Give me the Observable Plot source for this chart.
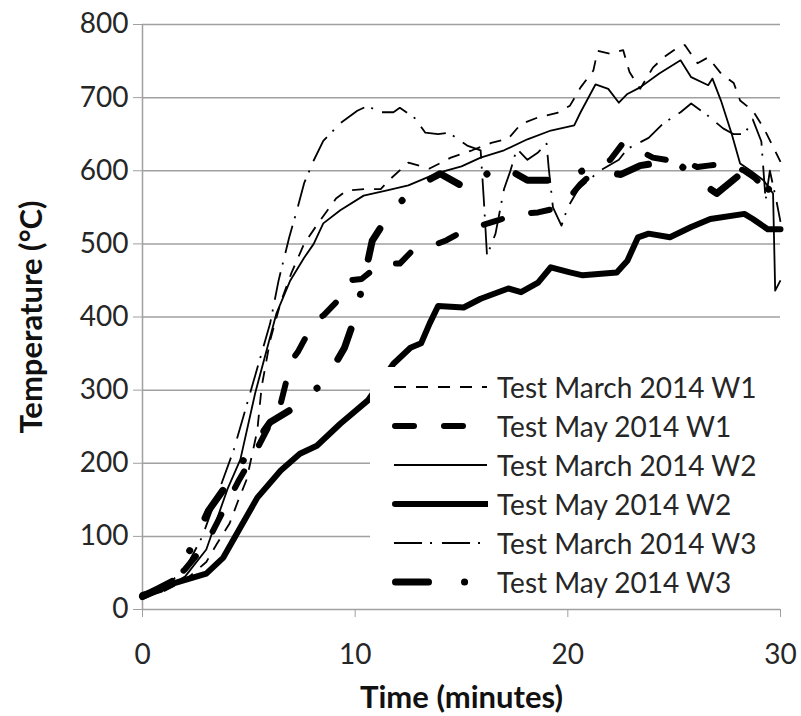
<!DOCTYPE html>
<html><head><meta charset="utf-8">
<script src="https://cdn.jsdelivr.net/npm/d3@7"></script>
<script src="https://cdn.jsdelivr.net/npm/@observablehq/plot@0.6"></script>
<style>
body{margin:0;background:#fff;}
#wrap{position:relative;width:801px;height:716px;font-family:Lato,"Open Sans",sans-serif;}
#legend{position:absolute;left:370px;top:367px;width:425px;height:232px;background:#fff;}
.row{display:flex;align-items:center;height:39px;}
.row svg{margin-left:22px;flex:none;}
.row span{margin-left:9px;font-size:28px;color:#262626;white-space:nowrap;}
g[aria-label="y-axis label"] text, g[aria-label="x-axis label"] text{font-weight:700;font-size:31px;fill:#111;}
</style></head>
<body><div id="wrap"></div>
<script>
// ---- data (time in minutes, temperature in °C) ----
const xTicks = [0, 10, 20, 30];
const yTicks = [0, 100, 200, 300, 400, 500, 600, 700, 800];

const tMarchW1 = [0,1,2,3,3.5,4.1,4.5,4.9,5.4,5.6,6.0,6.5,7.0,7.6,8.3,9.1,9.6,10.5,11.2,11.7,12.5,13.5,14.5,15.5,16.4,17.2,17.8,18.6,19.5,20.1,20.6,21.2,21.4,22.0,22.6,22.9,23.4,24.0,24.5,25.0,25.5,26.1,26.6,27.2,27.8,28.1,28.7,29.2,29.7,30];
const vMarchW1 = [18,25,40,65,90,118,149,178,245,304,368,420,460,500,530,562,573,575,575,590,611,603,618,628,638,644,664,673,679,689,714,737,764,760,765,735,712,741,755,765,772,747,755,733,720,696,682,659,630,612];

const tMayW1 = [0,1,2,3,3.8,4.5,5.3,6.0,6.4,7.0,7.3,8.1,8.5,9.5,9.7,10.3,11.2,12.1,12.6,13.4,14.3,15.1,15.9,16.7,17.6,18.6,19.5,20.2,20.6,21.3,22.0,22.6,23.2,24.0,24.8,25.5,26.1,26.6,27.5,28.3,28.8,29.2,30];
const vMayW1 = [20,28,55,90,135,175,215,254,270,340,352,395,402,432,450,452,473,473,488,495,505,518,525,532,541,543,549,568,582,600,615,638,630,618,614,612,605,607,610,600,590,578,575];

const tMarchW2 = [0,1,2,3,4,4.6,5.3,6.3,6.95,7.6,8.05,8.5,9.3,10.4,11.5,12.5,13.9,15.0,15.9,17.0,18.1,19.2,20.3,20.6,21.3,21.9,22.4,22.8,23.4,24.3,25.3,25.8,26.6,26.8,27.2,27.7,28.1,28.6,29.2,29.65,29.75,30];
const vMarchW2 = [20,28,45,82,165,205,296,405,450,481,500,528,546,566,573,580,597,606,618,628,643,655,662,680,718,712,693,705,714,733,751,728,717,726,696,651,610,600,587,569,436,450];

const tMayW2 = [0,1.5,3.0,3.8,4.6,5.4,6.5,7.4,8.2,9.3,10.6,11.8,12.6,13.1,13.5,13.9,15.1,15.9,17.2,17.8,18.6,19.2,20.1,20.7,22.3,22.8,23.3,23.8,24.8,25.8,26.7,28.3,28.7,29.4,30];
const vMayW2 = [17,36,49,71,112,153,190,213,224,254,286,336,358,364,391,415,413,425,439,434,447,468,461,457,461,477,509,514,509,523,534,541,534,520,520];

const tMarchW3 = [0,1,2,2.8,3.5,4.3,5.2,6.0,6.4,6.9,7.3,7.6,8.05,8.5,9.3,10.1,10.6,11.1,11.8,12.1,12.8,13.3,13.9,14.4,15.3,15.9,16.05,16.2,16.6,17.0,17.3,17.6,18.1,18.6,19.0,19.1,19.3,19.7,20.0,20.5,21.5,22.4,22.8,23.8,24.5,25.3,25.8,26.6,27.3,27.8,28.3,28.7,29.1,29.3,29.5,29.8,30];
const vMarchW3 = [18,30,55,99,155,219,310,391,450,509,550,583,614,641,665,682,689,680,680,686,672,652,650,652,634,628,560,484,514,575,600,630,615,625,637,604,550,525,550,575,600,615,630,645,665,680,692,675,658,650,650,670,640,560,600,560,530];

const tMayW3 = [0,0.7,1.5,2.3,3.1,4.0,5.0,6.0,7.3,8.6,9.5,10.0,10.4,10.8,11.6,12.8,14.0,15.4,16.0,16.7,18.1,19.5,20.7,21.5,22.5,23.4,24.5,25.2,26.1,27.0,28.1,29.2,29.7,30];
const vMayW3 = [18,28,40,85,135,172,215,256,279,313,358,400,450,504,541,577,596,573,590,610,587,587,600,598,595,607,612,610,587,569,595,580,569,575];

const seriesNames = ["Test March 2014 W1","Test May 2014 W1","Test March 2014 W2","Test May 2014 W2","Test March 2014 W3","Test May 2014 W3"];
const seriesT = [tMarchW1, tMayW1, tMarchW2, tMayW2, tMarchW3, tMayW3];
const seriesV = [vMarchW1, vMayW1, vMarchW2, vMayW2, vMarchW3, vMayW3];

// ---- styles ----
const styles = [
  {w: 1.8, dash: "12,10", cap: "butt"},
  {w: 6, dash: "19,30", cap: "round"},
  {w: 1.8, dash: null, cap: "butt"},
  {w: 6, dash: null, cap: "round"},
  {w: 1.8, dash: "28,8,2,10", cap: "butt"},
  {w: 7, dash: "33,36,0.1,36", cap: "round"}
];

const lineMarks = seriesNames.map((name, i) => {
  const rows = seriesT[i].map((t, j) => ({t, v: seriesV[i][j], name}));
  return Plot.line(rows, {
    x: "t", y: "v", stroke: "black", strokeWidth: styles[i].w,
    strokeDasharray: styles[i].dash || undefined,
    strokeLinecap: styles[i].cap, strokeLinejoin: "round"
  });
});

const chart = Plot.plot({
  width: 801, height: 716,
  marginLeft: 142, marginRight: 21, marginTop: 24, marginBottom: 107,
  style: {fontFamily: "Lato, 'Open Sans', sans-serif", background: "white", color: "#262626"},
  x: {domain: [0, 30]},
  y: {domain: [0, 800]},
  marks: [
    Plot.ruleY(yTicks, {stroke: "#a0a0a0", strokeWidth: 1.5}),
    Plot.ruleX([0], {stroke: "#a0a0a0", strokeWidth: 1.5}),
    Plot.axisY(yTicks, {tickSize: 9, tickPadding: 5, fontSize: 28, stroke: "#a0a0a0", fill: "#262626",
      label: "Temperature (°C)", labelAnchor: "center", labelOffset: 123, labelArrow: "none"}),
    Plot.axisX(xTicks, {tickSize: 8, tickPadding: 27, fontSize: 28, stroke: "#a0a0a0", fill: "#262626",
      label: "Time (minutes)", labelAnchor: "center", labelOffset: 98, labelArrow: "none"}),
    ...lineMarks
  ]
});

const wrap = document.getElementById("wrap");
wrap.appendChild(chart);

// ---- legend (inside the plot area) ----
const legend = document.createElement("div");
legend.id = "legend";
seriesNames.forEach((name, i) => {
  const row = document.createElement("div");
  row.className = "row";
  const s = styles[i];
  const x1 = s.cap === "round" ? s.w / 2 : 2;
  row.innerHTML = `<svg width="96" height="16"><line x1="${x1}" x2="95" y1="8" y2="8" stroke="black" stroke-width="${s.w}" ${s.dash ? `stroke-dasharray="${s.dash}"` : ""} stroke-linecap="${s.cap}"/></svg><span>${name}</span>`;
  legend.appendChild(row);
});
wrap.appendChild(legend);
</script>
</body></html>
